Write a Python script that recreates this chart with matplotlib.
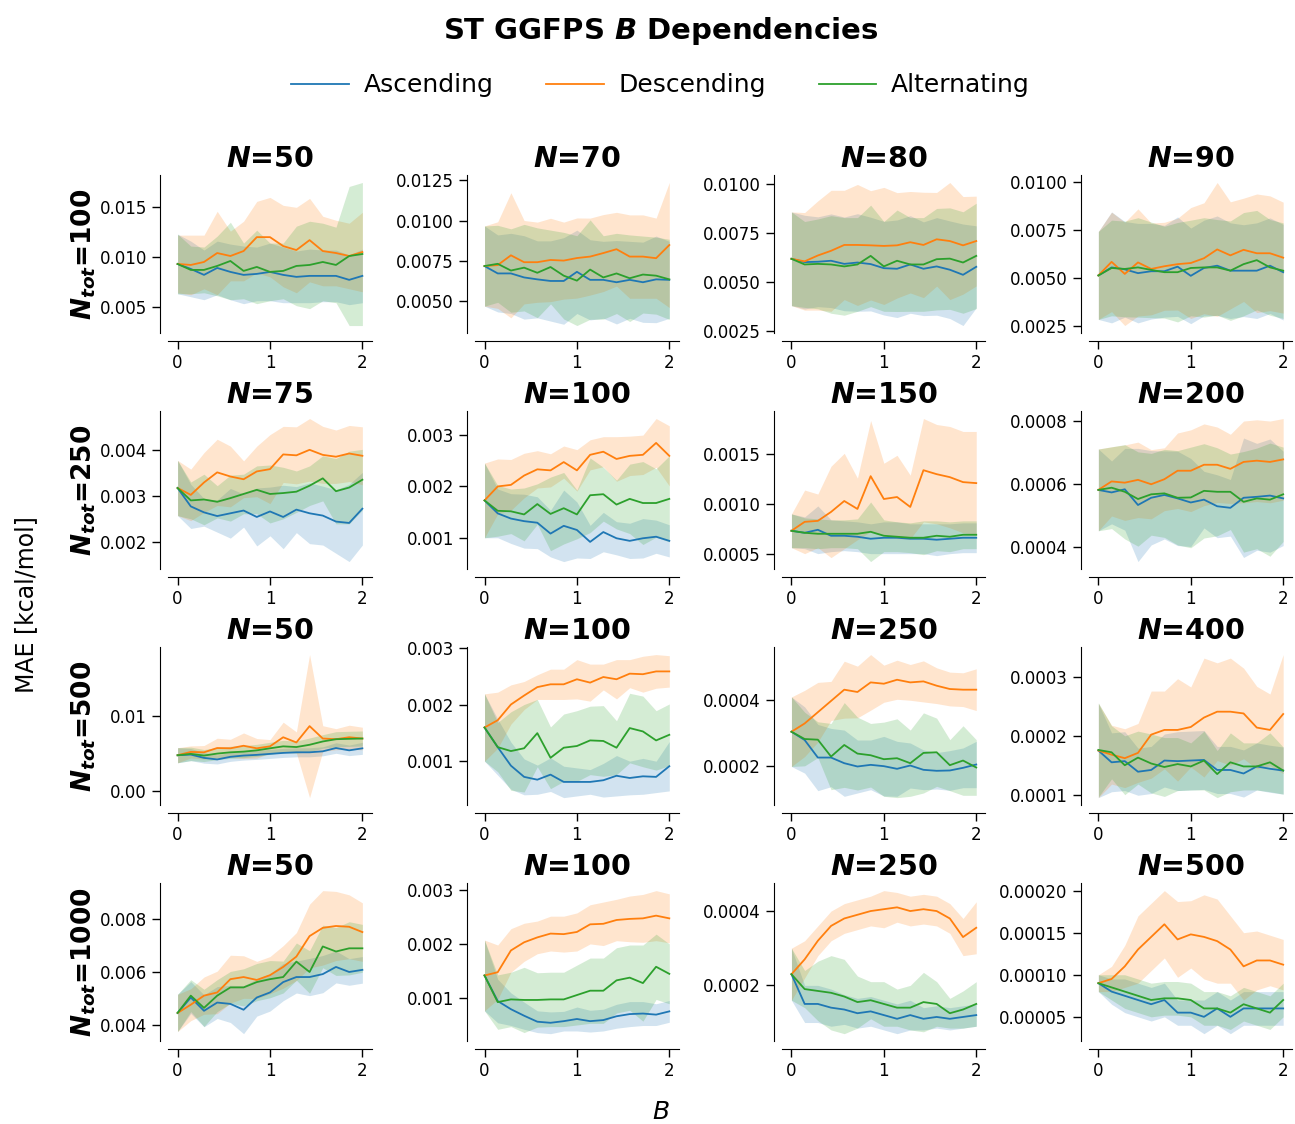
import numpy as np
import matplotlib.pyplot as plt

B = np.linspace(0, 2, 15)
n_tot = [100, 250, 500, 1000]
n_sub = [[50, 70, 80, 90], [75, 100, 150, 200], [50, 100, 250, 400], [50, 100, 250, 500]]
labels = ['Ascending', 'Descending', 'Alternating']
colors = ['tab:blue', 'tab:orange', 'tab:green']

# ---- N_tot = 100 ----
asc_100_50 = [0.0093, 0.0088, 0.0082, 0.0089, 0.0085, 0.0082, 0.0083, 0.0085, 0.0082, 0.0080, 0.0081, 0.0081, 0.0081, 0.0077, 0.0081]
asc_100_50_sd = [0.0030, 0.0028, 0.0025, 0.0027, 0.0028, 0.0029, 0.0027, 0.0029, 0.0028, 0.0026, 0.0027, 0.0026, 0.0026, 0.0025, 0.0027]
desc_100_50 = [0.0093, 0.0092, 0.0095, 0.0104, 0.0101, 0.0106, 0.0120, 0.0120, 0.0111, 0.0107, 0.0117, 0.0106, 0.0104, 0.0101, 0.0105]
desc_100_50_sd = [0.0029, 0.0030, 0.0027, 0.0042, 0.0025, 0.0030, 0.0036, 0.0040, 0.0041, 0.0043, 0.0042, 0.0035, 0.0033, 0.0033, 0.0040]
alt_100_50 = [0.0093, 0.0087, 0.0087, 0.0091, 0.0096, 0.0086, 0.0090, 0.0085, 0.0086, 0.0091, 0.0092, 0.0095, 0.0092, 0.0101, 0.0103]
alt_100_50_sd = [0.0030, 0.0024, 0.0023, 0.0030, 0.0039, 0.0028, 0.0037, 0.0029, 0.0028, 0.0040, 0.0044, 0.0039, 0.0038, 0.0070, 0.0072]

asc_100_70 = [0.00716, 0.0067, 0.0067, 0.00645, 0.00633, 0.00623, 0.00623, 0.0068, 0.0063, 0.0063, 0.00615, 0.0063, 0.00615, 0.00633, 0.0063]
asc_100_70_sd = [0.0025, 0.0024, 0.0025, 0.0026, 0.0024, 0.0025, 0.0027, 0.0026, 0.0025, 0.0024, 0.0026, 0.0024, 0.0025, 0.0027, 0.0024]
desc_100_70 = [0.00716, 0.00722, 0.00783, 0.0074, 0.0074, 0.00754, 0.0075, 0.00766, 0.00775, 0.00797, 0.00821, 0.00775, 0.00775, 0.00765, 0.00847]
desc_100_70_sd = [0.0025, 0.0027, 0.0039, 0.0026, 0.0025, 0.0026, 0.0024, 0.0025, 0.0024, 0.0024, 0.0023, 0.0026, 0.0026, 0.0025, 0.0039]
alt_100_70 = [0.00716, 0.0073, 0.00688, 0.00706, 0.00674, 0.0071, 0.00656, 0.00625, 0.00694, 0.00645, 0.0067, 0.0064, 0.00663, 0.00656, 0.00633]
alt_100_70_sd = [0.0025, 0.0024, 0.0026, 0.0027, 0.0028, 0.0023, 0.0027, 0.0028, 0.0031, 0.0026, 0.0025, 0.0027, 0.0024, 0.0024, 0.0025]

asc_100_80 = [0.00619, 0.00602, 0.00604, 0.00609, 0.00593, 0.0060, 0.00592, 0.00571, 0.00568, 0.0059, 0.00568, 0.0058, 0.00563, 0.00537, 0.00578]
asc_100_80_sd = [0.0024, 0.0024, 0.0023, 0.0024, 0.0024, 0.0025, 0.0024, 0.0024, 0.0025, 0.0025, 0.0024, 0.0025, 0.0025, 0.0026, 0.0021]
desc_100_80 = [0.00619, 0.00606, 0.00636, 0.0066, 0.0069, 0.0069, 0.00688, 0.00685, 0.00688, 0.00704, 0.0069, 0.00719, 0.0071, 0.00688, 0.0071]
desc_100_80_sd = [0.0024, 0.0025, 0.0028, 0.0031, 0.0028, 0.0031, 0.0028, 0.0030, 0.0027, 0.0026, 0.0027, 0.0024, 0.0030, 0.0025, 0.0023]
alt_100_80 = [0.00619, 0.0059, 0.00593, 0.0059, 0.0058, 0.0059, 0.00634, 0.0058, 0.00609, 0.0059, 0.0059, 0.00617, 0.0062, 0.0060, 0.00634]
alt_100_80_sd = [0.0024, 0.0022, 0.0023, 0.0025, 0.0025, 0.0024, 0.0026, 0.0023, 0.0026, 0.0024, 0.0024, 0.0026, 0.0026, 0.0026, 0.0027]

asc_100_90 = [0.00512, 0.00554, 0.00544, 0.00524, 0.00534, 0.00534, 0.00558, 0.0051, 0.00551, 0.00563, 0.00537, 0.00537, 0.00537, 0.00563, 0.00529]
asc_100_90_sd = [0.0023, 0.0029, 0.0025, 0.0026, 0.0025, 0.0024, 0.0026, 0.0025, 0.0025, 0.0026, 0.0025, 0.0024, 0.0025, 0.0025, 0.0025]
desc_100_90 = [0.00512, 0.00583, 0.0052, 0.0058, 0.00546, 0.0056, 0.00571, 0.00577, 0.00602, 0.00648, 0.00617, 0.00646, 0.00628, 0.00628, 0.00605]
desc_100_90_sd = [0.0023, 0.0026, 0.0027, 0.0028, 0.0024, 0.0023, 0.0024, 0.0029, 0.0029, 0.0035, 0.0028, 0.0027, 0.0031, 0.0030, 0.0029]
alt_100_90 = [0.00512, 0.00551, 0.00546, 0.00554, 0.00541, 0.00529, 0.00529, 0.00551, 0.00554, 0.00554, 0.00537, 0.00571, 0.00592, 0.00554, 0.00537]
alt_100_90_sd = [0.0023, 0.0025, 0.0025, 0.0026, 0.0025, 0.0024, 0.0026, 0.0025, 0.0026, 0.0025, 0.0026, 0.0027, 0.0026, 0.0025, 0.0025]

# ---- N_tot = 250 ----
asc_250_75 = [0.00318, 0.00278, 0.00265, 0.00257, 0.00263, 0.00269, 0.00255, 0.00267, 0.00255, 0.00271, 0.00263, 0.00258, 0.00245, 0.00242, 0.00273]
asc_250_75_sd = [0.0006, 0.00048, 0.0003, 0.00035, 0.00054, 0.00036, 0.00063, 0.00053, 0.00069, 0.0005, 0.00066, 0.00064, 0.00069, 0.00084, 0.00079]
desc_250_75 = [0.00318, 0.00303, 0.0033, 0.00352, 0.00343, 0.00337, 0.00354, 0.00359, 0.00391, 0.00389, 0.00401, 0.0039, 0.00386, 0.00393, 0.00388]
desc_250_75_sd = [0.0006, 0.00056, 0.00065, 0.00072, 0.00066, 0.0004, 0.00055, 0.00075, 0.00061, 0.00062, 0.00068, 0.00062, 0.00058, 0.00061, 0.00063]
alt_250_75 = [0.00318, 0.00291, 0.00293, 0.00288, 0.00296, 0.00305, 0.00314, 0.00305, 0.00307, 0.0031, 0.00323, 0.00339, 0.00311, 0.00319, 0.00336]
alt_250_75_sd = [0.0006, 0.0004, 0.00055, 0.00035, 0.0005, 0.00043, 0.00052, 0.00063, 0.00056, 0.00045, 0.00043, 0.00049, 0.00071, 0.00079, 0.00066]

asc_250_100 = [0.00173, 0.00148, 0.00138, 0.00133, 0.0013, 0.00109, 0.00124, 0.00116, 0.00093, 0.00112, 0.0010, 0.00095, 0.0010, 0.00103, 0.00095]
asc_250_100_sd = [0.00072, 0.00047, 0.00048, 0.00052, 0.0005, 0.00045, 0.00069, 0.00054, 0.00032, 0.00038, 0.00032, 0.00034, 0.00038, 0.00032, 0.00031]
desc_250_100 = [0.00173, 0.0020, 0.00203, 0.00221, 0.00233, 0.00231, 0.00247, 0.00231, 0.00261, 0.00267, 0.00253, 0.00259, 0.00261, 0.00284, 0.00259]
desc_250_100_sd = [0.00072, 0.00053, 0.00049, 0.00043, 0.00036, 0.00032, 0.00031, 0.0004, 0.00029, 0.00029, 0.00043, 0.00038, 0.00038, 0.00047, 0.00058]
alt_250_100 = [0.00173, 0.00153, 0.00152, 0.00146, 0.00166, 0.00147, 0.00158, 0.00146, 0.00183, 0.00185, 0.00165, 0.00176, 0.00168, 0.00168, 0.00176]
alt_250_100_sd = [0.00072, 0.00049, 0.00043, 0.00051, 0.00039, 0.00071, 0.00069, 0.00047, 0.00072, 0.00052, 0.00047, 0.00067, 0.0008, 0.00066, 0.00083]

asc_250_150 = [0.00073, 0.00071, 0.00074, 0.00068, 0.00068, 0.00067, 0.00065, 0.00066, 0.00066, 0.00065, 0.00065, 0.00064, 0.00065, 0.00066, 0.00066]
asc_250_150_sd = [0.00017, 0.00016, 0.00024, 0.00016, 0.00015, 0.00015, 0.00015, 0.00016, 0.00016, 0.00015, 0.00015, 0.00016, 0.00015, 0.00015, 0.00015]
desc_250_150 = [0.00073, 0.00082, 0.00083, 0.00092, 0.00103, 0.00095, 0.00128, 0.00105, 0.00107, 0.00097, 0.00134, 0.0013, 0.00127, 0.00122, 0.00121]
desc_250_150_sd = [0.00017, 0.00032, 0.00027, 0.00046, 0.00048, 0.00031, 0.00056, 0.00036, 0.00042, 0.00032, 0.00052, 0.0005, 0.00051, 0.00051, 0.00052]
alt_250_150 = [0.00073, 0.00071, 0.0007, 0.0007, 0.0007, 0.0007, 0.00072, 0.00068, 0.00067, 0.00066, 0.00066, 0.00068, 0.00067, 0.00069, 0.00069]
alt_250_150_sd = [0.00017, 0.00015, 0.00015, 0.00014, 0.00014, 0.00015, 0.0003, 0.00016, 0.00015, 0.00015, 0.00017, 0.00015, 0.00015, 0.00014, 0.00014]

asc_250_200 = [0.000582, 0.000574, 0.000584, 0.000534, 0.000557, 0.000566, 0.000555, 0.000542, 0.000551, 0.00053, 0.000525, 0.000557, 0.00056, 0.000564, 0.000555]
asc_250_200_sd = [0.00013, 0.0001, 0.00013, 0.00018, 0.00015, 0.00014, 0.00015, 0.00014, 0.00009, 0.0001, 0.00009, 0.00019, 0.00017, 0.00018, 0.00015]
desc_250_200 = [0.000582, 0.000609, 0.000605, 0.000614, 0.0006, 0.000616, 0.000643, 0.000643, 0.000662, 0.000662, 0.000649, 0.000671, 0.000675, 0.000671, 0.000679]
desc_250_200_sd = [0.00013, 0.00011, 0.00012, 0.00012, 0.00011, 0.0001, 0.00012, 0.00013, 0.00013, 0.00012, 0.00011, 0.00013, 0.00013, 0.00013, 0.00013]
alt_250_200 = [0.000582, 0.000589, 0.000576, 0.000553, 0.000568, 0.000571, 0.000557, 0.000558, 0.000579, 0.000576, 0.000576, 0.000544, 0.000555, 0.000551, 0.000568]
alt_250_200_sd = [0.00013, 0.00013, 0.00015, 0.00015, 0.00013, 0.00014, 0.00015, 0.00016, 0.00015, 0.00014, 0.00012, 0.00016, 0.00016, 0.00018, 0.00015]

# ---- N_tot = 500 ----
asc_500_50 = [0.00478, 0.00487, 0.00443, 0.00422, 0.00457, 0.00474, 0.00483, 0.00496, 0.00509, 0.00517, 0.00517, 0.0053, 0.00574, 0.00543, 0.0057]
asc_500_50_sd = [0.0010, 0.0008, 0.0007, 0.0006, 0.0006, 0.0006, 0.0006, 0.0006, 0.0006, 0.0006, 0.0006, 0.0006, 0.0007, 0.0007, 0.0008]
desc_500_50 = [0.00478, 0.00522, 0.00517, 0.00574, 0.0057, 0.00604, 0.0057, 0.00596, 0.00717, 0.00648, 0.00865, 0.0070, 0.00691, 0.00717, 0.0070]
desc_500_50_sd = [0.0010, 0.0008, 0.0009, 0.0013, 0.0012, 0.0017, 0.0013, 0.0009, 0.0020, 0.0014, 0.0095, 0.0017, 0.0014, 0.0016, 0.0015]
alt_500_50 = [0.00478, 0.00496, 0.00474, 0.0050, 0.00517, 0.00526, 0.00543, 0.0057, 0.00596, 0.00587, 0.00617, 0.00661, 0.00691, 0.00696, 0.0070]
alt_500_50_sd = [0.0010, 0.0009, 0.0008, 0.0008, 0.0008, 0.0008, 0.0008, 0.0008, 0.0008, 0.0008, 0.0009, 0.0009, 0.0010, 0.0010, 0.0010]

asc_500_100 = [0.00159, 0.00124, 0.00091, 0.00071, 0.00066, 0.00075, 0.00062, 0.00062, 0.00062, 0.00065, 0.00073, 0.00069, 0.00072, 0.00071, 0.0009]
asc_500_100_sd = [0.0006, 0.0005, 0.00042, 0.00032, 0.00026, 0.0003, 0.00028, 0.00025, 0.00022, 0.0003, 0.00036, 0.0003, 0.00032, 0.00028, 0.00044]
desc_500_100 = [0.00159, 0.00172, 0.0020, 0.00216, 0.00231, 0.00236, 0.00236, 0.00245, 0.00239, 0.00249, 0.00245, 0.00255, 0.00254, 0.00259, 0.00259]
desc_500_100_sd = [0.0006, 0.0005, 0.00035, 0.00025, 0.00022, 0.00027, 0.00027, 0.00035, 0.00033, 0.00023, 0.00035, 0.00025, 0.00032, 0.0003, 0.00028]
alt_500_100 = [0.00159, 0.00124, 0.00117, 0.00122, 0.00149, 0.00105, 0.00123, 0.00126, 0.00136, 0.00135, 0.00123, 0.00158, 0.00152, 0.00136, 0.00146]
alt_500_100_sd = [0.0006, 0.00044, 0.0007, 0.00078, 0.0006, 0.00055, 0.0006, 0.00063, 0.00061, 0.00063, 0.00048, 0.00062, 0.00063, 0.00053, 0.00055]

asc_500_250 = [0.000304, 0.000279, 0.000226, 0.000226, 0.000209, 0.000199, 0.000204, 0.0002, 0.000192, 0.000202, 0.000189, 0.000186, 0.000187, 0.000195, 0.000205]
asc_500_250_sd = [0.000105, 0.0001, 0.0001, 0.000088, 0.0001, 0.00008, 0.000075, 0.00009, 0.000083, 0.000068, 0.00006, 0.000055, 0.00006, 0.00006, 0.00007]
desc_500_250 = [0.000304, 0.000329, 0.000363, 0.000397, 0.000431, 0.000424, 0.000453, 0.000449, 0.000461, 0.000453, 0.000456, 0.000443, 0.000433, 0.000431, 0.000431]
desc_500_250_sd = [0.000105, 0.0001, 0.00009, 0.000059, 0.000086, 0.000078, 0.000084, 0.000056, 0.000059, 0.000054, 0.000062, 0.000054, 0.000051, 0.000051, 0.000063]
alt_500_250 = [0.000304, 0.000282, 0.00028, 0.000229, 0.000264, 0.000238, 0.000233, 0.000221, 0.000224, 0.000209, 0.00024, 0.000242, 0.000203, 0.000217, 0.000196]
alt_500_250_sd = [0.000105, 0.000081, 0.000054, 0.0001, 0.000128, 0.00011, 0.000096, 0.000112, 0.000119, 0.0001, 0.000121, 0.000103, 0.000077, 0.000105, 0.000084]

asc_500_400 = [0.000175, 0.000155, 0.000157, 0.000139, 0.000142, 0.000158, 0.000157, 0.000158, 0.000159, 0.000142, 0.000142, 0.000136, 0.000148, 0.000144, 0.000141]
asc_500_400_sd = [0.00008, 0.00005, 0.00005, 0.00004, 0.00004, 0.000045, 0.00005, 0.00005, 0.00005, 0.00004, 0.00004, 0.00004, 0.00004, 0.00004, 0.00004]
desc_500_400 = [0.000175, 0.000168, 0.000162, 0.000171, 0.000202, 0.00021, 0.00021, 0.000215, 0.000231, 0.000241, 0.000241, 0.000238, 0.000214, 0.00021, 0.000237]
desc_500_400_sd = [0.00008, 0.00005, 0.00005, 0.00005, 0.000074, 0.000066, 0.000087, 0.000068, 0.000101, 0.000083, 0.000091, 0.000077, 0.00007, 0.000061, 0.000101]
alt_500_400 = [0.000176, 0.000172, 0.00015, 0.000163, 0.000153, 0.000147, 0.000152, 0.000148, 0.000158, 0.000135, 0.000155, 0.000148, 0.000148, 0.000155, 0.000141]
alt_500_400_sd = [0.00008, 0.000045, 0.00005, 0.000045, 0.00005, 0.00005, 0.000045, 0.00004, 0.00005, 0.00004, 0.00005, 0.00004, 0.00004, 0.00005, 0.00004]

# ---- N_tot = 1000 ----
asc_1000_50 = [0.00446, 0.00504, 0.00454, 0.00485, 0.0048, 0.00458, 0.00504, 0.00523, 0.00562, 0.00581, 0.00581, 0.00592, 0.00619, 0.0060, 0.00608]
asc_1000_50_sd = [0.0007, 0.0006, 0.0006, 0.0006, 0.0007, 0.0009, 0.0007, 0.0007, 0.0007, 0.0006, 0.0007, 0.0007, 0.0006, 0.0005, 0.0005]
desc_1000_50 = [0.00446, 0.00477, 0.00511, 0.00523, 0.00573, 0.00581, 0.0057, 0.00588, 0.00619, 0.00658, 0.00735, 0.00766, 0.00773, 0.0077, 0.0075]
desc_1000_50_sd = [0.0007, 0.0006, 0.0007, 0.0008, 0.0009, 0.0008, 0.0007, 0.0007, 0.0008, 0.0009, 0.0012, 0.0014, 0.0013, 0.0012, 0.0011]
alt_1000_50 = [0.00446, 0.00511, 0.00465, 0.00511, 0.00542, 0.00542, 0.00562, 0.00573, 0.00581, 0.00639, 0.0060, 0.00696, 0.00677, 0.00689, 0.00689]
alt_1000_50_sd = [0.0007, 0.0006, 0.0007, 0.0006, 0.0006, 0.0007, 0.0007, 0.0007, 0.0006, 0.0007, 0.0008, 0.0008, 0.0009, 0.0010, 0.0009]

asc_1000_100 = [0.00142, 0.00095, 0.0008, 0.00068, 0.00057, 0.00055, 0.00058, 0.00062, 0.00058, 0.0006, 0.00067, 0.00071, 0.00072, 0.0007, 0.00076]
asc_1000_100_sd = [0.00065, 0.0004, 0.0003, 0.00025, 0.0002, 0.0002, 0.00018, 0.00022, 0.0002, 0.0002, 0.00022, 0.00023, 0.00022, 0.0002, 0.0002]
desc_1000_100 = [0.00142, 0.00148, 0.00188, 0.00203, 0.00212, 0.00219, 0.00218, 0.00222, 0.00236, 0.00237, 0.00244, 0.00246, 0.00247, 0.00252, 0.00247]
desc_1000_100_sd = [0.00065, 0.0005, 0.0004, 0.00035, 0.0003, 0.00032, 0.00033, 0.00035, 0.00036, 0.0004, 0.00038, 0.00042, 0.00044, 0.00046, 0.00045]
alt_1000_100 = [0.00142, 0.00093, 0.00098, 0.00097, 0.00097, 0.00098, 0.00098, 0.00106, 0.00114, 0.00114, 0.00133, 0.00138, 0.00128, 0.00158, 0.00145]
alt_1000_100_sd = [0.00065, 0.0005, 0.0005, 0.0006, 0.0005, 0.0005, 0.0005, 0.00055, 0.0006, 0.0006, 0.0006, 0.0006, 0.0007, 0.0006, 0.00055]

asc_1000_250 = [0.00023, 0.00015, 0.00015, 0.00014, 0.000135, 0.000125, 0.00013, 0.00012, 0.00011, 0.00012, 0.00011, 0.000115, 0.00011, 0.000115, 0.00012]
asc_1000_250_sd = [0.00007, 0.00005, 0.00005, 0.00005, 0.00004, 0.00004, 0.00004, 0.00004, 0.00004, 0.00004, 0.00003, 0.00003, 0.00003, 0.00003, 0.00003]
desc_1000_250 = [0.00023, 0.00027, 0.00032, 0.00036, 0.00038, 0.00039, 0.0004, 0.000405, 0.00041, 0.0004, 0.000405, 0.0004, 0.00038, 0.00033, 0.000355]
desc_1000_250_sd = [0.00007, 0.00005, 0.00004, 0.00004, 0.00004, 0.00004, 0.00004, 0.00005, 0.00004, 0.00004, 0.00004, 0.00004, 0.00004, 0.00005, 0.00007]
alt_1000_250 = [0.00023, 0.00019, 0.000185, 0.00018, 0.00017, 0.000155, 0.00016, 0.00015, 0.00014, 0.00014, 0.000155, 0.00015, 0.000125, 0.000135, 0.00015]
alt_1000_250_sd = [0.00007, 0.00005, 0.00008, 0.0001, 0.0001, 0.00007, 0.00005, 0.00006, 0.00005, 0.00006, 0.00008, 0.00006, 0.00004, 0.00005, 0.00006]

asc_1000_500 = [0.00009, 0.00008, 0.000075, 0.00007, 0.000065, 0.00007, 0.000055, 0.000055, 0.00005, 0.00006, 0.00005, 0.00006, 0.00006, 0.00006, 0.00006]
asc_1000_500_sd = [0.00001, 0.000015, 0.00002, 0.00002, 0.00002, 0.00002, 0.000015, 0.000015, 0.00002, 0.00002, 0.00002, 0.00002, 0.00002, 0.00002, 0.00002]
desc_1000_500 = [0.00009, 0.000095, 0.00011, 0.00013, 0.000145, 0.00016, 0.000142, 0.000148, 0.000145, 0.00014, 0.00013, 0.00011, 0.000117, 0.000117, 0.000112]
desc_1000_500_sd = [0.00001, 0.000015, 0.000025, 0.00004, 0.00004, 0.00004, 0.000045, 0.00004, 0.00005, 0.00005, 0.00004, 0.00004, 0.000035, 0.00003, 0.00003]
alt_1000_500 = [0.00009, 0.000085, 0.00008, 0.000075, 0.00007, 0.000072, 0.000072, 0.00007, 0.00006, 0.00006, 0.000055, 0.000065, 0.00006, 0.000055, 0.00007]
alt_1000_500_sd = [0.00001, 0.000015, 0.00002, 0.00002, 0.00002, 0.00002, 0.00002, 0.00002, 0.00002, 0.00002, 0.00002, 0.00002, 0.00002, 0.00002, 0.00002]

# (mean, std) per ordering for every panel
runs = {
    (100, 50): [(asc_100_50, asc_100_50_sd), (desc_100_50, desc_100_50_sd), (alt_100_50, alt_100_50_sd)],
    (100, 70): [(asc_100_70, asc_100_70_sd), (desc_100_70, desc_100_70_sd), (alt_100_70, alt_100_70_sd)],
    (100, 80): [(asc_100_80, asc_100_80_sd), (desc_100_80, desc_100_80_sd), (alt_100_80, alt_100_80_sd)],
    (100, 90): [(asc_100_90, asc_100_90_sd), (desc_100_90, desc_100_90_sd), (alt_100_90, alt_100_90_sd)],
    (250, 75): [(asc_250_75, asc_250_75_sd), (desc_250_75, desc_250_75_sd), (alt_250_75, alt_250_75_sd)],
    (250, 100): [(asc_250_100, asc_250_100_sd), (desc_250_100, desc_250_100_sd), (alt_250_100, alt_250_100_sd)],
    (250, 150): [(asc_250_150, asc_250_150_sd), (desc_250_150, desc_250_150_sd), (alt_250_150, alt_250_150_sd)],
    (250, 200): [(asc_250_200, asc_250_200_sd), (desc_250_200, desc_250_200_sd), (alt_250_200, alt_250_200_sd)],
    (500, 50): [(asc_500_50, asc_500_50_sd), (desc_500_50, desc_500_50_sd), (alt_500_50, alt_500_50_sd)],
    (500, 100): [(asc_500_100, asc_500_100_sd), (desc_500_100, desc_500_100_sd), (alt_500_100, alt_500_100_sd)],
    (500, 250): [(asc_500_250, asc_500_250_sd), (desc_500_250, desc_500_250_sd), (alt_500_250, alt_500_250_sd)],
    (500, 400): [(asc_500_400, asc_500_400_sd), (desc_500_400, desc_500_400_sd), (alt_500_400, alt_500_400_sd)],
    (1000, 50): [(asc_1000_50, asc_1000_50_sd), (desc_1000_50, desc_1000_50_sd), (alt_1000_50, alt_1000_50_sd)],
    (1000, 100): [(asc_1000_100, asc_1000_100_sd), (desc_1000_100, desc_1000_100_sd), (alt_1000_100, alt_1000_100_sd)],
    (1000, 250): [(asc_1000_250, asc_1000_250_sd), (desc_1000_250, desc_1000_250_sd), (alt_1000_250, alt_1000_250_sd)],
    (1000, 500): [(asc_1000_500, asc_1000_500_sd), (desc_1000_500, desc_1000_500_sd), (alt_1000_500, alt_1000_500_sd)],
}

fig, axes = plt.subplots(4, 4, figsize=(12.95, 11.24), dpi=100)
plt.subplots_adjust(left=0.130, right=0.998, top=0.844, bottom=0.074, wspace=0.51, hspace=0.5)

for i, nt in enumerate(n_tot):
    for j, n in enumerate(n_sub[i]):
        ax = axes[i, j]
        for (mean, sd), lab, c in zip(runs[(nt, n)], labels, colors):
            mean = np.array(mean)
            sd = np.array(sd)
            ax.plot(B, mean, color=c, lw=1.3, label=lab)
            ax.fill_between(B, mean - sd, mean + sd, color=c, alpha=0.2, lw=0)
        ax.set_title(r'$\mathbfit{N}$=%d' % n, fontsize=20.5, fontweight='bold')
        ax.set_xticks([0, 1, 2])
        ax.tick_params(labelsize=12, length=6, width=1)
        ax.spines['top'].set_visible(False)
        ax.spines['right'].set_visible(False)
        ax.spines['left'].set_position(('outward', 6))
        ax.spines['bottom'].set_position(('outward', 6))
        if j == 0:
            ax.set_ylabel(r'$\mathbfit{N_{tot}}$=%d' % nt, fontsize=19, fontweight='bold')
            ax.yaxis.set_label_coords(-0.345, 0.5)

handles, lbls = axes[0, 0].get_legend_handles_labels()
fig.legend(handles, lbls, loc='center', bbox_to_anchor=(0.51, 0.924), ncol=3,
           frameon=False, fontsize=18, handlelength=2.3, columnspacing=2.1, handletextpad=0.6)
fig.suptitle(r'ST GGFPS $\mathbfit{B}$ Dependencies', x=0.51, y=0.972, fontsize=21, fontweight='bold', va='center')
fig.supylabel('MAE [kcal/mol]', x=0.011, y=0.462, fontsize=17)
fig.supxlabel('$B$', x=0.51, y=0.0, fontsize=18)

plt.savefig('out.png', dpi=100)
